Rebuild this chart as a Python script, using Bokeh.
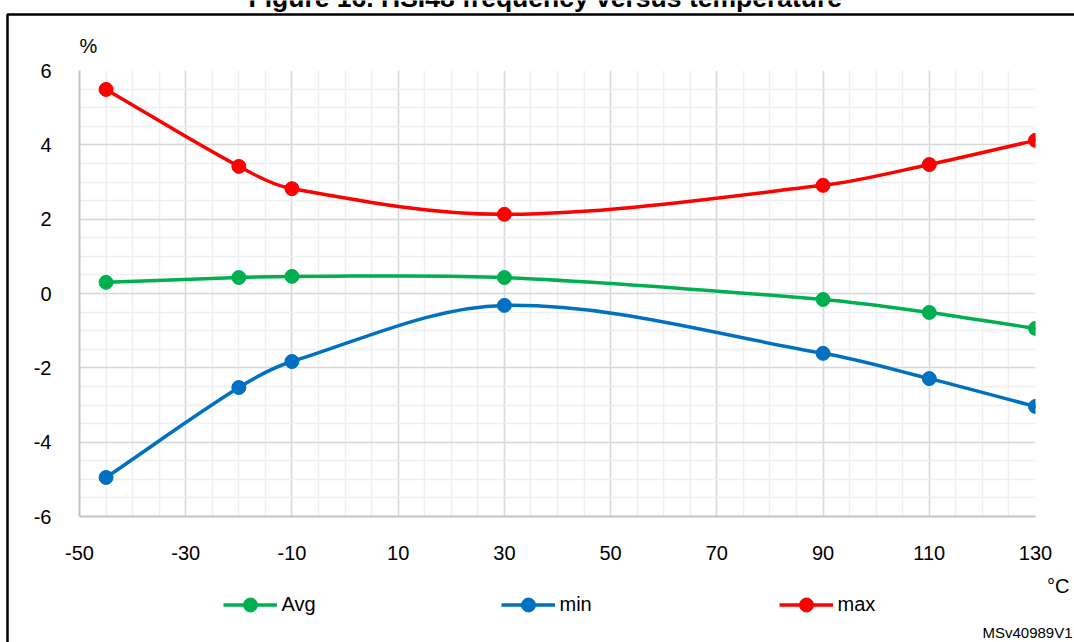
import numpy as np
from bokeh.plotting import figure
from bokeh.models import FixedTicker, Range1d, Label, Legend, LegendItem, BoxAnnotation
from bokeh.embed import file_html
from bokeh.resources import INLINE

# ---- data ----
temps = [-45, -20, -10, 30, 90, 110, 130]
avg_vals = [0.30, 0.43, 0.46, 0.43, -0.16, -0.51, -0.94]
min_vals = [-4.95, -2.53, -1.83, -0.32, -1.61, -2.29, -3.04]
max_vals = [5.49, 3.42, 2.82, 2.13, 2.91, 3.47, 4.12]
x_ticks = [-50, -30, -10, 10, 30, 50, 70, 90, 110, 130]
y_ticks = [-6, -4, -2, 0, 2, 4, 6]
series_names = ["Avg", "min", "max"]
series_colors = ["#00B050", "#0070C0", "#FF0000"]
title_text = "Figure 16. HSI48 frequency versus temperature"
y_unit = "%"
x_unit = "°C"
ref_code = "MSv40989V1"


def smooth_segments(xs, ys):
    """Bezier segments of a smooth (Hermite, finite-difference slopes) curve through the points."""
    xs = np.asarray(xs, float)
    ys = np.asarray(ys, float)
    n = len(xs)
    m = np.zeros(n)
    for i in range(n):
        a = max(i - 1, 0)
        b = min(i + 1, n - 1)
        m[i] = (ys[b] - ys[a]) / (xs[b] - xs[a])
    out = {k: [] for k in ("x0", "y0", "x1", "y1", "cx0", "cy0", "cx1", "cy1")}
    for i in range(n - 1):
        h = xs[i + 1] - xs[i]
        out["x0"].append(xs[i]); out["y0"].append(ys[i])
        out["x1"].append(xs[i + 1]); out["y1"].append(ys[i + 1])
        out["cx0"].append(xs[i] + h / 3); out["cy0"].append(ys[i] + m[i] * h / 3)
        out["cx1"].append(xs[i + 1] - h / 3); out["cy1"].append(ys[i + 1] - m[i + 1] * h / 3)
    return out


FONT = "Liberation Sans"
W, H = 1074, 642
ABS = {"position": "absolute", "top": "0px", "left": "0px"}

# ---- background figure: page texts, legend and outer box, in page pixels (y down) ----
bg = figure(width=W, height=H, x_range=Range1d(0, W), y_range=Range1d(H, 0),
            x_axis_type=None, y_axis_type=None, min_border=0,
            output_backend="svg", toolbar_location=None)
bg.styles = ABS
bg.outline_line_color = None
bg.grid.visible = False
bg.add_layout(BoxAnnotation(left=7, right=W + 40, top=14, bottom=H + 40,
                            fill_alpha=0, line_color="black", line_alpha=1.0, line_width=2.5))
bg.add_layout(Label(x=248, y=-3, text=title_text, text_font=FONT, text_font_size="26.5px",
                    text_font_style="bold", text_align="left", text_baseline="alphabetic",
                    text_color="#000000"))
bg.add_layout(Label(x=79, y=45, text=y_unit, text_font=FONT, text_font_size="20px",
                    text_align="left", text_baseline="middle", text_color="#000000"))
bg.add_layout(Label(x=1069, y=585, text=x_unit, text_font=FONT, text_font_size="20px",
                    text_align="right", text_baseline="middle", text_color="#000000"))
bg.add_layout(Label(x=982, y=632, text=ref_code, text_font=FONT, text_font_size="15px",
                    text_align="left", text_baseline="middle", text_color="#000000"))

# ---- chart figure ----
p = figure(width=W, height=H, x_range=Range1d(-50, 130), y_range=Range1d(-6, 6),
           output_backend="svg", toolbar_location=None,
           min_border_left=79, min_border_right=39, min_border_top=70, min_border_bottom=126)
p.styles = ABS
p.outline_line_color = None
p.background_fill_color = "white"
p.border_fill_alpha = 0

xt = FixedTicker(ticks=x_ticks, minor_ticks=list(range(-50, 131, 5)))
yt = FixedTicker(ticks=y_ticks, minor_ticks=[v / 2 for v in range(-12, 13)])
p.xaxis.ticker = xt
p.yaxis.ticker = yt
p.xgrid.ticker = xt
p.ygrid.ticker = yt
p.xaxis.major_label_overrides = {t: str(t) for t in x_ticks}
p.yaxis.major_label_overrides = {t: str(t) for t in y_ticks}
for g in (p.xgrid, p.ygrid):
    g.grid_line_color = "#d9d9d9"
    g.grid_line_width = 1.5
    g.minor_grid_line_color = "#efefef"
    g.minor_grid_line_width = 1.5

for ax in (p.xaxis, p.yaxis):
    ax.axis_line_color = "#c4c4c4"
    ax.axis_line_width = 2
    ax.major_tick_line_color = None
    ax.minor_tick_line_color = None
    ax.major_label_text_font = FONT
    ax.major_label_text_font_size = "20px"
    ax.major_label_text_color = "#000000"
p.xaxis.major_label_standoff = 23
p.yaxis.major_label_standoff = 22

items = []
for name, color, vals in zip(series_names, series_colors, [avg_vals, min_vals, max_vals]):
    seg = smooth_segments(temps, vals)
    p.bezier(line_color=color, line_width=3.5, line_cap="round", **seg)
    p.scatter(temps, vals, size=14, fill_color=color, line_color=color)
    # legend keys (hidden renderers on the page layer; only their legend symbols are shown)
    k_line = bg.line(temps, vals, line_color=color, line_width=3.5, visible=False)
    k_pts = bg.scatter(temps, vals, size=14, fill_color=color, line_color=color, visible=False)
    items.append(LegendItem(label=name, renderers=[k_line, k_pts]))

legend = Legend(items=items, orientation="horizontal", location=(222.5, 20.5),
                glyph_width=54, glyph_height=35, label_standoff=5, label_width=200,
                label_height=35, spacing=19, padding=0, margin=0,
                border_line_color=None, background_fill_alpha=0,
                inactive_fill_alpha=0,
                label_text_font=FONT, label_text_font_size="20px",
                label_text_color="#000000")
bg.add_layout(legend, "center")

open("out.html", "w").write(file_html([bg, p], INLINE))
